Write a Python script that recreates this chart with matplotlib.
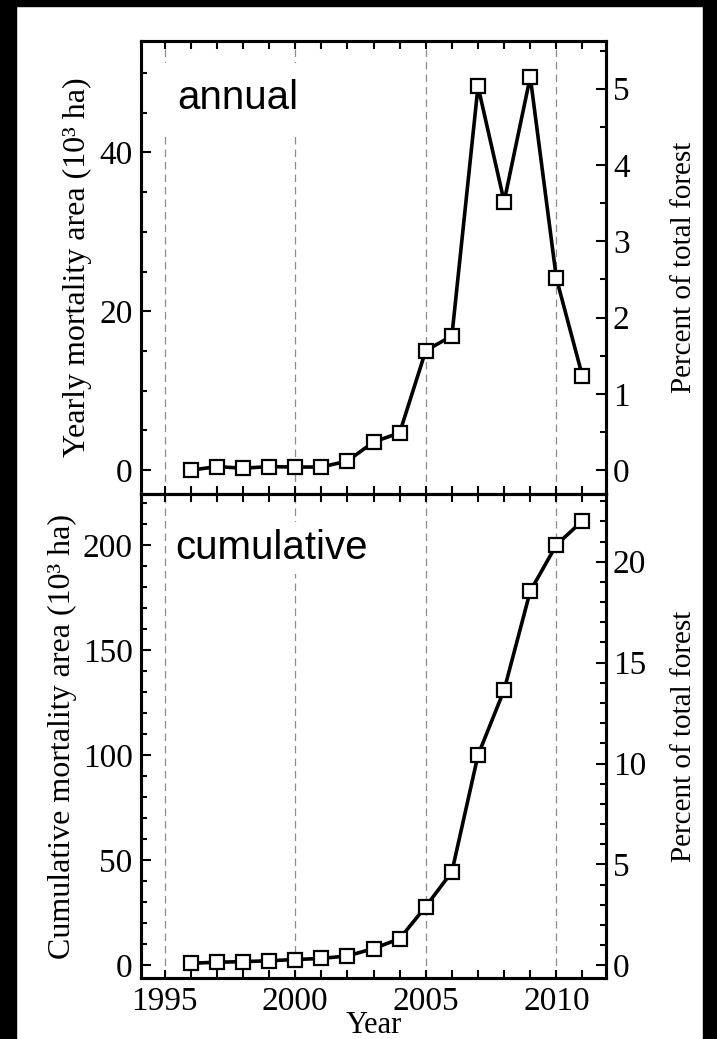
import numpy as np
import matplotlib
matplotlib.use("Agg")
import matplotlib.pyplot as plt
from matplotlib.ticker import MultipleLocator
from matplotlib.patches import Rectangle

years = [1996, 1997, 1998, 1999, 2000, 2001, 2002, 2003,
         2004, 2005, 2006, 2007, 2008, 2009, 2010, 2011]
annual = [0.0, 0.45, 0.25, 0.45, 0.4, 0.4, 1.15, 3.55,
          4.7, 15.05, 16.9, 48.3, 33.8, 49.5, 24.15, 11.8]
cumulative = [1.0, 1.5, 1.8, 2.2, 2.8, 3.3, 4.5, 8.0,
              12.7, 28.0, 44.5, 100.0, 131.0, 178.0, 200.0, 211.5]
ref_years = [1995, 2000, 2005, 2010]
total_forest = 9.6   # 10^3 ha per percent

plt.rcParams['font.family'] = 'Liberation Serif'
plt.rcParams['font.size'] = 22

fig = plt.figure(figsize=(7.17, 10.39), dpi=100)
ax1 = fig.add_axes([0.1967, 0.5245, 0.6485, 0.436])
ax2 = fig.add_axes([0.1967, 0.0587, 0.6485, 0.4658])

# black edges like the scanned figure
fig.patches.append(Rectangle((0, 0), 16 / 717, 1, transform=fig.transFigure, color='black', zorder=-5))
fig.patches.append(Rectangle((703 / 717, 0), 14 / 717, 1, transform=fig.transFigure, color='black', zorder=-5))
fig.patches.append(Rectangle((0, 1 - 6 / 1039), 1, 6 / 1039, transform=fig.transFigure, color='black', zorder=-5))

panels = [
    (ax1, annual, (-3, 54), 20, 5, 1, 0.5, 'Yearly mortality area (10³ ha)', 'annual', 12, -0.105, (0.209, 0.874)),
    (ax2, cumulative, (-6, 224.2), 50, 10, 5, 1, 'Cumulative mortality area (10³ ha)', 'cumulative', 5, -0.138, (0.28, 0.888)),
]

for ax, vals, ylim, ymaj, ymin, rmaj, rmin, ylab, name, pad, labx, tpos in panels:
    for x in ref_years:
        ax.axvline(x, color='#8c8c8c', ls=(0, (6, 4)), lw=0.9, zorder=1)
    ax.plot(years, vals, '-', color='black', lw=2.6, zorder=3)
    ax.plot(years, vals, 's', ms=10.5, mfc='white', mec='black', mew=1.6, zorder=4)
    ax.set_xlim(1994.1, 2011.9)
    ax.set_ylim(*ylim)
    ax.xaxis.set_major_locator(MultipleLocator(5))
    ax.xaxis.set_minor_locator(MultipleLocator(1))
    ax.yaxis.set_major_locator(MultipleLocator(ymaj))
    ax.yaxis.set_minor_locator(MultipleLocator(ymin))
    ax.tick_params(axis='x', which='both', direction='in', top=True, length=5.5, width=1.5,
                   labelsize=24, pad=6)
    ax.tick_params(axis='y', which='major', direction='in', length=7.5, width=1.5, pad=6, labelsize=24)
    ax.tick_params(axis='y', which='minor', direction='in', length=4.5, width=1.5)
    for s in ax.spines.values():
        s.set_linewidth(2.2)
    ax.set_ylabel(ylab, fontsize=23)
    ax.yaxis.set_label_coords(labx, 0.5)
    ax.text(tpos[0], tpos[1], name, transform=ax.transAxes, ha='center', va='center',
            fontsize=29, family='Liberation Sans', zorder=2,
            bbox=dict(facecolor='white', edgecolor='none', pad=pad))

    rax = ax.twinx()
    rax.set_ylim(ylim[0] / total_forest, ylim[1] / total_forest)
    rax.yaxis.set_major_locator(MultipleLocator(rmaj))
    rax.yaxis.set_minor_locator(MultipleLocator(rmin))
    rax.tick_params(axis='y', which='major', direction='in', length=7.5, width=1.5, pad=5, labelsize=24)
    rax.tick_params(axis='y', which='minor', direction='in', length=4.5, width=1.5)
    for s in rax.spines.values():
        s.set_linewidth(2.2)
    rax.set_ylabel('Percent of total forest', fontsize=21)
    rax.yaxis.set_label_coords(1.14, 0.5)

ax1.tick_params(axis='x', labelbottom=False)
ax2.set_xlabel('Year', fontsize=22, labelpad=-4)

fig.savefig('out.png', dpi=100, facecolor='white')
